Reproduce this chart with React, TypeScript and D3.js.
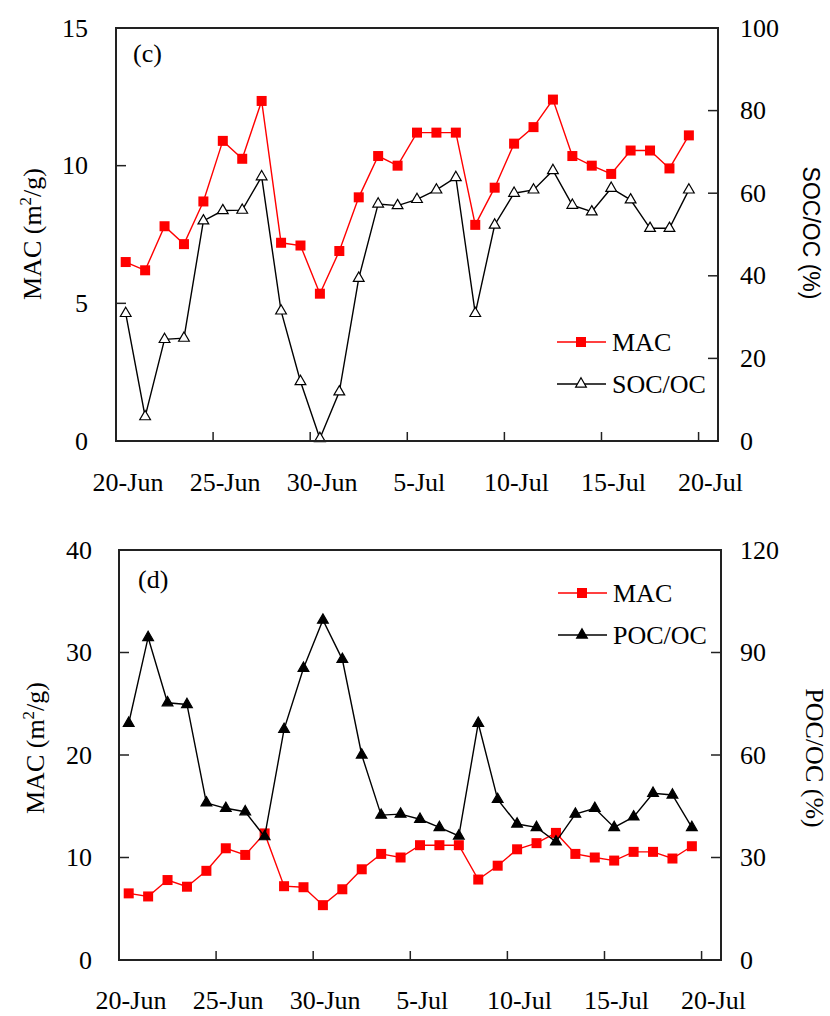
import React from "react";
import * as d3 from "d3";

const DATES = [
  "20-Jun", "21-Jun", "22-Jun", "23-Jun", "24-Jun", "25-Jun", "26-Jun", "27-Jun", "28-Jun", "29-Jun",
  "30-Jun", "1-Jul", "2-Jul", "3-Jul", "4-Jul", "5-Jul", "6-Jul", "7-Jul", "8-Jul", "9-Jul",
  "10-Jul", "11-Jul", "12-Jul", "13-Jul", "14-Jul", "15-Jul", "16-Jul", "17-Jul", "18-Jul", "19-Jul",
];
const MAC = [
  6.5, 6.2, 7.8, 7.15, 8.7, 10.9, 10.25, 12.35, 7.2, 7.1,
  5.35, 6.9, 8.85, 10.35, 10.0, 11.2, 11.2, 11.2, 7.85, 9.2,
  10.8, 11.4, 12.4, 10.35, 10.0, 9.7, 10.55, 10.55, 9.9, 11.1,
];
const SOC_OC = [
  30.9, 5.9, 24.6, 24.9, 53.3, 55.8, 55.9, 64.0, 31.5, 14.4,
  0.6, 11.9, 39.4, 57.4, 57.0, 58.5, 60.8, 63.8, 30.9, 52.3,
  60.0, 60.8, 65.5, 57.1, 55.5, 61.2, 58.4, 51.5, 51.5, 60.8,
];
const POC_OC = [
  69.3, 94.4, 75.3, 74.8, 46.0, 44.4, 43.4, 36.1, 67.5, 85.4,
  99.5, 88.0, 60.0, 42.4, 42.7, 41.2, 38.8, 36.3, 69.3, 47.0,
  39.8, 38.8, 34.6, 42.7, 44.4, 38.8, 41.9, 48.8, 48.3, 38.8,
];
const X_TICKS = ["20-Jun", "25-Jun", "30-Jun", "5-Jul", "10-Jul", "15-Jul", "20-Jul"];
const X_END = "21-Jul";
const MAC_TICKS_C = [0, 5, 10, 15];
const SOC_TICKS = [0, 20, 40, 60, 80, 100];
const MAC_TICKS_D = [0, 10, 20, 30, 40];
const POC_TICKS = [0, 30, 60, 90, 120];

const parse = d3.utcParse("%d-%b");
const HALF_DAY = 12 * 3600 * 1000;
const SERIF = "'Liberation Serif','Times New Roman',serif";
const SANS = "'Liberation Sans',Arial,sans-serif";
const FS = 26;

type PanelProps = {
  x0: number; x1: number; y0: number; y1: number;
  leftTicks: number[]; rightTicks: number[];
  right: number[]; rightName: string; filled: boolean;
  tag: string; tagX: number; tagY: number;
  leftLabelX: number; rightLabelX: number;
  titleLX: number; titleLY: number; titleRX: number; titleRY: number;
  titleRFont: string; titleRSize: number;
  legX: number; legY1: number; legY2: number;
  xLabelY: number;
};

function Panel(p: PanelProps) {
  const x = d3.scaleUtc().domain([parse(X_TICKS[0])!, parse(X_END)!]).range([p.x0, p.x1]);
  const yL = d3.scaleLinear().domain([p.leftTicks[0], p.leftTicks[p.leftTicks.length - 1]]).range([p.y1, p.y0]);
  const yR = d3.scaleLinear().domain([p.rightTicks[0], p.rightTicks[p.rightTicks.length - 1]]).range([p.y1, p.y0]);
  const px = (i: number) => x(new Date(parse(DATES[i])!.getTime() + HALF_DAY));
  const macLine = d3.line<number>().x((_, i) => px(i)).y((d) => yL(d));
  const rLine = d3.line<number>().x((_, i) => px(i)).y((d) => yR(d));
  const tri = d3.symbol(d3.symbolTriangle, 50)()!;
  const sq = 10;
  return (
    <g>
      <path d={macLine(MAC)!} fill="none" stroke="#ff0000" strokeWidth={1.4} />
      {MAC.map((d, i) => (
        <rect key={"m" + i} x={px(i) - sq / 2} y={yL(d) - sq / 2} width={sq} height={sq} fill="#ff0000" />
      ))}
      <path d={rLine(p.right)!} fill="none" stroke="#000" strokeWidth={1.4} />
      {p.right.map((d, i) => (
        <path key={"r" + i} d={tri} transform={`translate(${px(i)},${yR(d)})`}
          fill={p.filled ? "#000" : "#fff"} stroke="#000" strokeWidth={1.2} />
      ))}
      <rect x={p.x0} y={p.y0} width={p.x1 - p.x0} height={p.y1 - p.y0} fill="none" stroke="#222" strokeWidth={2} />
      {p.leftTicks.map((t) => (
        <g key={"lt" + t}>
          <line x1={p.x0} x2={p.x0 + 10} y1={yL(t)} y2={yL(t)} stroke="#222" strokeWidth={1.5} />
          <text x={p.leftLabelX} y={yL(t)} textAnchor="end" dominantBaseline="central"
            fontFamily={SERIF} fontSize={FS} fill="#000">{t}</text>
        </g>
      ))}
      {p.rightTicks.map((t) => (
        <g key={"rt" + t}>
          <line x1={p.x1} x2={p.x1 - 10} y1={yR(t)} y2={yR(t)} stroke="#222" strokeWidth={1.5} />
          <text x={p.rightLabelX} y={yR(t)} textAnchor="start" dominantBaseline="central"
            fontFamily={SERIF} fontSize={FS} fill="#000">{t}</text>
        </g>
      ))}
      {X_TICKS.map((t) => {
        const tx = x(parse(t)!);
        return (
          <g key={"xt" + t}>
            <line x1={tx} x2={tx} y1={p.y1} y2={p.y1 - 9} stroke="#222" strokeWidth={1.5} />
            <text x={tx + 12} y={p.xLabelY} textAnchor="middle" fontFamily={SERIF} fontSize={FS} fill="#000">{t}</text>
          </g>
        );
      })}
      <text x={p.tagX} y={p.tagY} fontFamily={SERIF} fontSize={FS} fill="#000">{p.tag}</text>
      <text transform={`translate(${p.titleLX},${p.titleLY}) rotate(-90)`} textAnchor="middle"
        fontFamily={SERIF} fontSize={FS} fill="#000">
        MAC (m<tspan dy={-10} fontSize={17}>2</tspan><tspan dy={10}>/g)</tspan>
      </text>
      <text transform={`translate(${p.titleRX},${p.titleRY}) rotate(90)`} textAnchor="middle"
        fontFamily={p.titleRFont} fontSize={p.titleRSize} fill="#000">{p.rightName + " (%)"}</text>
      <line x1={p.legX - 24} x2={p.legX + 25} y1={p.legY1} y2={p.legY1} stroke="#ff0000" strokeWidth={1.4} />
      <rect x={p.legX - sq / 2} y={p.legY1 - sq / 2} width={sq} height={sq} fill="#ff0000" />
      <text x={p.legX + 31} y={p.legY1} dominantBaseline="central" fontFamily={SERIF} fontSize={FS} fill="#000">MAC</text>
      <line x1={p.legX - 24} x2={p.legX + 25} y1={p.legY2} y2={p.legY2} stroke="#000" strokeWidth={1.4} />
      <path d={tri} transform={`translate(${p.legX},${p.legY2})`} fill={p.filled ? "#000" : "#fff"} stroke="#000" strokeWidth={1.2} />
      <text x={p.legX + 31} y={p.legY2} dominantBaseline="central" fontFamily={SERIF} fontSize={FS} fill="#000">{p.rightName}</text>
    </g>
  );
}

export default function App() {
  return (
    <svg width={830} height={1016} style={{ position: "absolute", left: 0, top: 0, background: "#fff" }}>
      <rect width={830} height={1016} fill="#fff" />
      <Panel x0={116} x1={718} y0={28} y1={441}
        leftTicks={MAC_TICKS_C} rightTicks={SOC_TICKS}
        right={SOC_OC} rightName="SOC/OC" filled={false}
        tag="(c)" tagX={133} tagY={62}
        leftLabelX={88} rightLabelX={740}
        titleLX={41} titleLY={234} titleRX={803} titleRY={233}
        titleRFont={SANS} titleRSize={23}
        legX={581} legY1={342} legY2={384}
        xLabelY={491} />
      <Panel x0={119} x1={721} y0={550} y1={960}
        leftTicks={MAC_TICKS_D} rightTicks={POC_TICKS}
        right={POC_OC} rightName="POC/OC" filled={true}
        tag="(d)" tagX={138} tagY={588}
        leftLabelX={92} rightLabelX={740}
        titleLX={44} titleLY={748} titleRX={806} titleRY={758}
        titleRFont={SERIF} titleRSize={FS}
        legX={582} legY1={593} legY2={635}
        xLabelY={1009} />
    </svg>
  );
}
